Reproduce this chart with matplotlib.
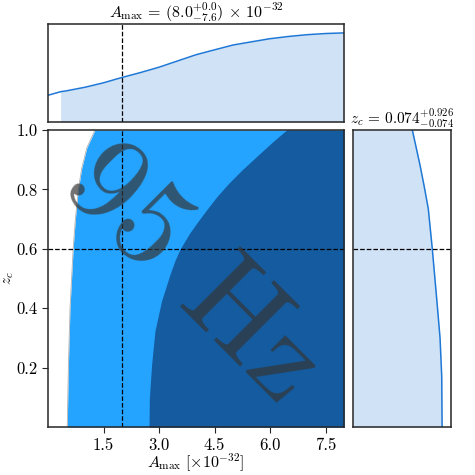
import matplotlib
matplotlib.use("Agg")
import matplotlib.pyplot as plt
import numpy as np

plt.rcParams['font.family'] = 'serif'
plt.rcParams['font.serif'] = ['cmr10', 'DejaVu Serif']
plt.rcParams['mathtext.fontset'] = 'cm'
plt.rcParams['axes.formatter.use_mathtext'] = True
plt.rcParams['axes.unicode_minus'] = False

# 2D credible region boundaries (A_max at each z_c)
z_outer = [0.0, 0.2, 0.4, 0.6, 0.7, 0.8, 0.87, 0.94, 1.0]
A_outer = [0.52, 0.55, 0.595, 0.68, 0.74, 0.82, 0.91, 1.05, 1.27]
z_inner = [0.0, 0.098, 0.21, 0.323, 0.425, 0.515, 0.56, 0.599, 0.651, 0.69, 0.73, 0.775, 0.82, 0.865, 0.911, 0.962, 1.0]
A_inner = [2.73, 2.74, 2.80, 2.89, 3.07, 3.30, 3.43, 3.57, 3.82, 4.04, 4.28, 4.56, 4.88, 5.24, 5.64, 6.09, 6.45]

# marginal of A_max
A_grid = [0.0, 0.34, 0.5, 1.0, 1.5, 2.0, 2.5, 3.0, 3.5, 4.0, 4.5, 5.0, 5.5, 6.0, 6.5, 7.0, 7.5, 8.0]
A_pdf = [0.30, 0.34, 0.35, 0.39, 0.44, 0.50, 0.555, 0.615, 0.685, 0.755, 0.81, 0.864, 0.90, 0.935, 0.96, 0.98, 0.993, 1.0]

# marginal of z_c
z_grid = [0.0, 0.17, 0.3, 0.43, 0.6, 0.735, 0.809, 0.882, 1.0]
z_pdf = [1.0, 0.996, 0.977, 0.94, 0.89, 0.845, 0.80, 0.752, 0.666]

A_best = 2.0
z_best = 0.6
xmin, xmax = 0.0, 8.0

light = '#24a4ff'
dark = '#145ba0'
line_c = '#1f78d6'
fill_c = '#cfe2f6'
spine_c = '#262626'

fig = plt.figure(figsize=(4.75, 4.75), dpi=100)
ax = fig.add_axes([48/475, 48/475, 296/475, 297/475])
axt = fig.add_axes([48/475, 353/475, 296/475, 98/475])
axr = fig.add_axes([353/475, 48/475, 98/475, 297/475])

ax.fill_betweenx(z_outer, A_outer, xmax, color=light, lw=0)
ax.plot(A_outer, z_outer, color='#b0b0b0', lw=0.6)
ax.fill_betweenx(z_inner, A_inner, xmax, color=dark, lw=0)
ax.axvline(A_best, color='k', ls='--', lw=0.9)
ax.axhline(z_best, color='k', ls='--', lw=0.9)
ax.text(3.92, 0.51, '95 Hz', fontsize=89, rotation=-45, rotation_mode='anchor',
        ha='center', va='center', color='#353535', alpha=0.7)
ax.set_xlim(xmin, xmax)
ax.set_ylim(0, 1)
ax.set_xticks([1.5, 3.0, 4.5, 6.0, 7.5])
ax.set_yticks([0.2, 0.4, 0.6, 0.8, 1.0])
ax.set_xticklabels(['1.5', '3.0', '4.5', '6.0', '7.5'])
ax.set_yticklabels(['0.2', '0.4', '0.6', '0.8', '1.0'])
ax.tick_params(labelsize=12, length=4, color=spine_c)
ax.set_xlabel(r'$A_{\rm max}\ [\times 10^{-32}]$', fontsize=11.5)
ax.set_ylabel(r'$z_c$', fontsize=11)
ax.xaxis.set_label_coords(0.5, -0.084)
ax.yaxis.set_label_coords(-0.108, 0.5)

axt.plot(A_grid, A_pdf, color=line_c, lw=1.1)
axt.fill_between(A_grid[1:], 0, A_pdf[1:], color=fill_c, lw=0)
axt.axvline(A_best, color='k', ls='--', lw=0.9)
axt.set_xlim(xmin, xmax)
axt.set_ylim(0, 1.1)
axt.set_xticks([])
axt.set_yticks([])
axt.set_title(r'$A_{\rm max}\,=\,(8.0^{+0.0}_{-7.6})\,\times\,10^{-32}$', fontsize=11.5, pad=3)

axr.plot(z_pdf, z_grid, color=line_c, lw=1.1)
axr.fill_betweenx(z_grid, 0, z_pdf, color=fill_c, lw=0)
axr.axhline(z_best, color='k', ls='--', lw=0.9)
axr.set_ylim(0, 1)
axr.set_xlim(0, 1.1)
axr.set_xticks([])
axr.set_yticks([])
axr.set_title(r'$z_c\,=\,0.074^{+0.926}_{-0.074}$', fontsize=11, pad=3)

for a in (ax, axt, axr):
    for s in a.spines.values():
        s.set_color(spine_c)
        s.set_linewidth(1.1)

fig.savefig('out.png', dpi=100)
